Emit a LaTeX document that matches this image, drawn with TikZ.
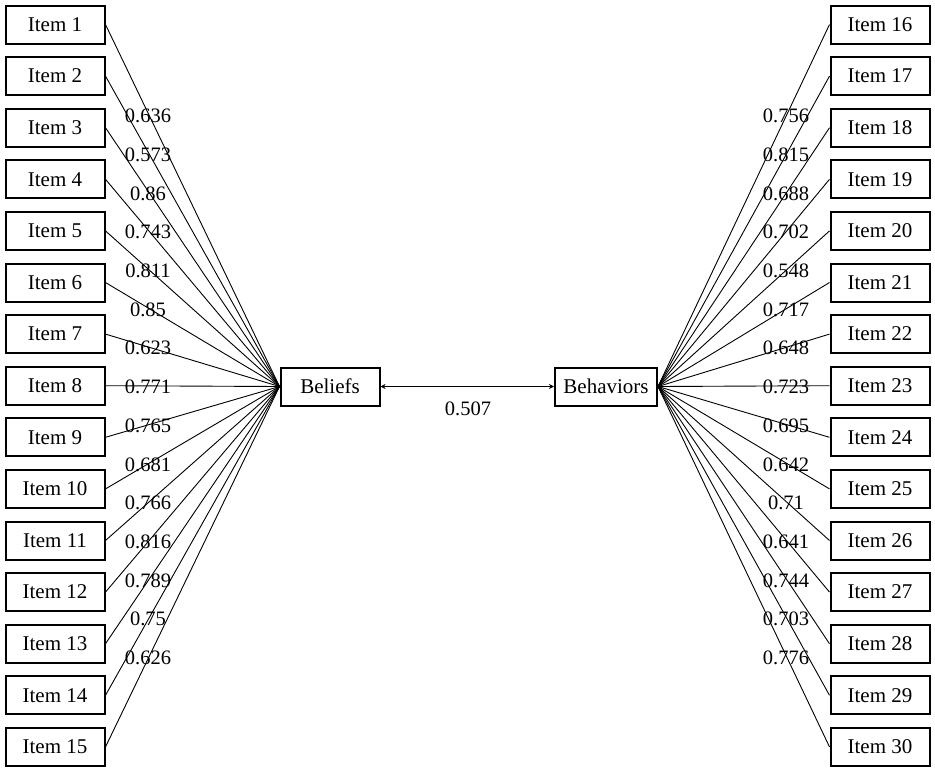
\documentclass[tikz,border=0pt]{standalone}
\usepackage{fontspec}
\setmainfont{Liberation Serif}
\usetikzlibrary{arrows.meta}
\begin{document}
\begin{tikzpicture}[x=1pt,y=-1pt,
  itembox/.style={draw,line width=2pt,minimum width=99pt,minimum height=38pt,inner sep=0pt,font=\fontsize{21}{24}\selectfont},
  latent/.style={itembox},
  load/.style={line width=0.9pt,black},
  lbl/.style={inner sep=0pt,font=\fontsize{20.5}{24}\selectfont}]
\useasboundingbox (0,0) rectangle (935,772);
\node[latent,minimum width=99pt] (bel) at (330,386.5) {Beliefs};
\node[latent,minimum width=102pt] (beh) at (606,386.5) {Behaviors};
\foreach \i in {1,...,15}{
  \pgfmathsetmacro{\yy}{24.5+(\i-1)*51.6}
  \node[itembox] (L\i) at (55,\yy) {Item \i};
  \draw[load] (L\i.east) -- (bel.west);
}
\foreach \i in {16,...,30}{
  \pgfmathsetmacro{\yy}{24.5+(\i-16)*51.6}
  \node[itembox] (R\i) at (880,\yy) {Item \i};
  \draw[load] (R\i.west) -- (beh.east);
}
\foreach \v [count=\k] in {0.636,0.573,0.86,0.743,0.811,0.85,0.623,0.771,0.765,0.681,0.766,0.816,0.789,0.75,0.626}{
  \pgfmathsetmacro{\yy}{387+(\k-8)*38.7}
  \node[lbl] (la\k) at (148,\yy) {\v};
}
\foreach \v [count=\k] in {0.756,0.815,0.688,0.702,0.548,0.717,0.648,0.723,0.695,0.642,0.71,0.641,0.744,0.703,0.776}{
  \pgfmathsetmacro{\yy}{387+(\k-8)*38.7}
  \node[lbl] (lb\k) at (786,\yy) {\v};
}
\draw[line width=0.9pt,{Stealth[length=5pt,width=5pt]}-{Stealth[length=5pt,width=5pt]}] (bel.east) -- (beh.west);
\node[lbl] (corr) at (468,409) {0.507};
\end{tikzpicture}
\end{document}
